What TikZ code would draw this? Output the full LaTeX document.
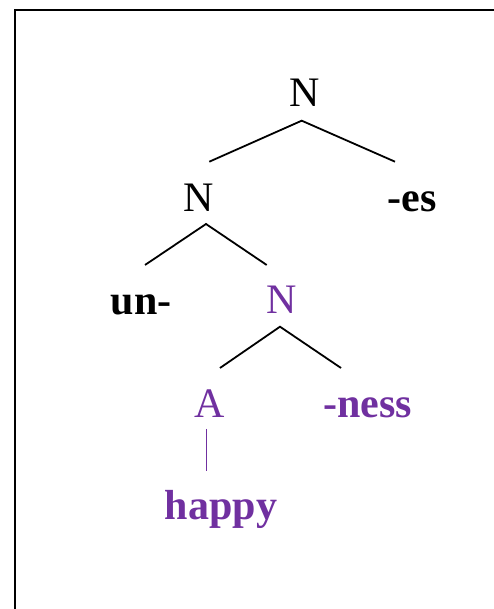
\documentclass[tikz,border=0pt]{standalone}
\usepackage{fontspec}
\setmainfont{Liberation Serif}
\definecolor{morph}{HTML}{7030A0}
\tikzset{
  lbl/.style={anchor=base, inner sep=0pt, font=\fontsize{42}{48}\selectfont},
  blbl/.style={lbl, font=\fontsize{42}{48}\selectfont\bfseries},
  branch/.style={line width=1.8pt, black},
  frame/.style={line width=2.4pt, black}
}
\begin{document}
\begin{tikzpicture}[x=1pt,y=1pt]
\useasboundingbox (0,0) rectangle (494,609);
% frame
\coordinate (fb) at (15,0);
\coordinate (fc) at (15,599);
\coordinate (fr) at (494,599);
\draw[frame] (fb) -- (fc) -- (fr);
% labels (y = 609 - pixel baseline)
\node[lbl] (nTop) at (305,502) {N};
\node[lbl] (nMid) at (199,397.5) {N};
\node[blbl] (es) at (412,397.5) {-es};
\node[blbl] (un) at (141,294.5) {un-};
\node[lbl, text=morph] (nLow) at (281.5,295) {N};
\node[lbl, text=morph] (a) at (210,191) {A};
\node[blbl, text=morph] (ness) at (367.5,191) {-ness};
\node[blbl, text=morph] (happy) at (221,89) {happy};
% branch points
\coordinate (pTop) at (301.7,488.3);
\coordinate (pTopL) at (209.3,447.3);
\coordinate (pTopR) at (395,447.3);
\coordinate (pMid) at (206,385);
\coordinate (pMidL) at (145,344);
\coordinate (pMidR) at (266.7,344);
\coordinate (pLow) at (280,282.3);
\coordinate (pLowL) at (220,241);
\coordinate (pLowR) at (341,241);
\coordinate (pA) at (206.5,180);
\coordinate (pAB) at (206.5,138);
\draw[branch] (pTopL) -- (pTop) -- (pTopR);
\draw[branch] (pMidL) -- (pMid) -- (pMidR);
\draw[branch] (pLowL) -- (pLow) -- (pLowR);
\draw[line width=1.8pt, morph] (pA) -- (pAB);
\end{tikzpicture}
\end{document}
